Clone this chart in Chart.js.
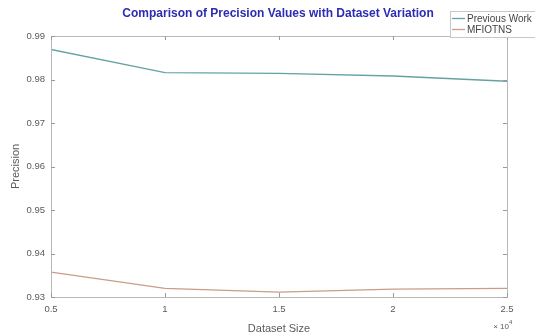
<!DOCTYPE html>
<html>
<head>
<meta charset="utf-8">
<script src="https://cdn.jsdelivr.net/npm/chart.js@4/dist/chart.umd.min.js"></script>
<style>
  html, body { margin: 0; padding: 0; background: #fff; }
  #wrap { width: 535px; height: 336px; }
</style>
</head>
<body>
<div id="wrap"><canvas id="precisionChart"></canvas></div>
<script>
// data
const datasetSize = [5000, 10000, 15000, 20000, 25000];
const previousWork = [0.9869, 0.9816, 0.9814, 0.9808, 0.9796];
const mfiotns = [0.9357, 0.9320, 0.9311, 0.9318, 0.9320];
const seriesNames = ["Previous Work", "MFIOTNS"];
const yTicks = [0.93, 0.94, 0.95, 0.96, 0.97, 0.98, 0.99];
const xTicks = [5000, 10000, 15000, 20000, 25000];

const lineColors = ["#64a3a4", "#c99d88"];
const textGray = "#5a5a5a";
const fontFam = "'Liberation Sans', Arial, sans-serif";

// title, box, inward ticks, legend and exponent drawn MATLAB-style
const matlabLook = {
  id: "matlabLook",
  afterDraw(chart) {
    let ctx = chart.ctx;
    let a = chart.chartArea;
    let xs = chart.scales.x, ys = chart.scales.y;
    ctx.save();

    // axes box
    ctx.strokeStyle = "#b8b8b8";
    ctx.lineWidth = 1;
    ctx.strokeRect(a.left + 0.5, a.top + 0.5, a.right - a.left, a.bottom - a.top);

    // inward tick marks
    ctx.strokeStyle = "#9a9a9a";
    ctx.beginPath();
    yTicks.forEach(v => {
      let y = Math.round(ys.getPixelForValue(v)) + 0.5;
      ctx.moveTo(a.left, y); ctx.lineTo(a.left + 4, y);
      ctx.moveTo(a.right, y); ctx.lineTo(a.right - 4, y);
    });
    xTicks.forEach(v => {
      let x = Math.round(xs.getPixelForValue(v)) + 0.5;
      ctx.moveTo(x, a.bottom); ctx.lineTo(x, a.bottom - 4);
      ctx.moveTo(x, a.top); ctx.lineTo(x, a.top + 4);
    });
    ctx.stroke();

    // title
    ctx.fillStyle = "#2c2cb4";
    ctx.font = "bold 12px " + fontFam;
    ctx.textAlign = "center";
    ctx.textBaseline = "middle";
    ctx.fillText("Comparison of Precision Values with Dataset Variation", 278, 14);

    // legend
    let lx = 450, ly = 11, lw = 90, lh = 26;
    ctx.fillStyle = "#ffffff";
    ctx.fillRect(lx, ly, lw, lh);
    ctx.strokeStyle = "#c8c8c8";
    ctx.lineWidth = 1;
    ctx.strokeRect(lx + 0.5, ly + 0.5, lw, lh);
    ctx.font = "10px " + fontFam;
    ctx.textAlign = "left";
    chart.data.datasets.forEach((ds, i) => {
      let y = ly + 7 + i * 11;
      ctx.strokeStyle = ds.borderColor;
      ctx.lineWidth = 1.3;
      ctx.beginPath();
      ctx.moveTo(lx + 2, y + 0.5); ctx.lineTo(lx + 15, y + 0.5);
      ctx.stroke();
      ctx.fillStyle = "#444";
      ctx.fillText(ds.label, lx + 17, y + 1);
    });

    // exponent label
    ctx.fillStyle = textGray;
    ctx.font = "8px " + fontFam;
    ctx.textAlign = "right";
    ctx.fillText("\u00d7 10", 509, 327);
    ctx.font = "6px " + fontFam;
    ctx.textAlign = "left";
    ctx.fillText("4", 509, 322);

    ctx.restore();
  }
};

new Chart(document.getElementById("precisionChart"), {
  type: "line",
  data: {
    datasets: [
      {
        label: seriesNames[0],
        data: datasetSize.map((x, i) => ({ x: x, y: previousWork[i] })),
        borderColor: lineColors[0],
        borderWidth: 1.3,
        pointRadius: 0,
        fill: false,
        tension: 0
      },
      {
        label: seriesNames[1],
        data: datasetSize.map((x, i) => ({ x: x, y: mfiotns[i] })),
        borderColor: lineColors[1],
        borderWidth: 1.3,
        pointRadius: 0,
        fill: false,
        tension: 0
      }
    ]
  },
  options: {
    responsive: true,
    maintainAspectRatio: false,
    animation: false,
    layout: { padding: { left: 9, right: 28, top: 36, bottom: 0 } },
    plugins: {
      legend: { display: false },
      title: { display: false },
      tooltip: { enabled: false }
    },
    scales: {
      x: {
        type: "linear",
        min: 5000,
        max: 25000,
        afterFit(scale) { scale.height = 39; },
        afterBuildTicks(scale) { scale.ticks = xTicks.map(v => ({ value: v })); },
        grid: { display: false, drawTicks: false },
        border: { display: false },
        ticks: {
          padding: 7,
          color: textGray,
          font: { size: 9.5, family: fontFam },
          maxRotation: 0,
          callback: v => String(v / 10000)
        },
        title: {
          display: true,
          text: "Dataset Size",
          color: textGray,
          padding: { top: 1, bottom: 0 },
          font: { size: 11, family: fontFam }
        }
      },
      y: {
        min: 0.93,
        max: 0.99,
        afterFit(scale) { scale.width = 42; },
        afterBuildTicks(scale) { scale.ticks = yTicks.map(v => ({ value: v })); },
        grid: { display: false, drawTicks: false },
        border: { display: false },
        ticks: {
          padding: 6,
          color: textGray,
          font: { size: 9.5, family: fontFam },
          callback: v => v.toFixed(2)
        },
        title: {
          display: true,
          text: "Precision",
          color: textGray,
          padding: { top: 0, bottom: 0 },
          font: { size: 11, family: fontFam }
        }
      }
    }
  },
  plugins: [matlabLook]
});
</script>
</body>
</html>
